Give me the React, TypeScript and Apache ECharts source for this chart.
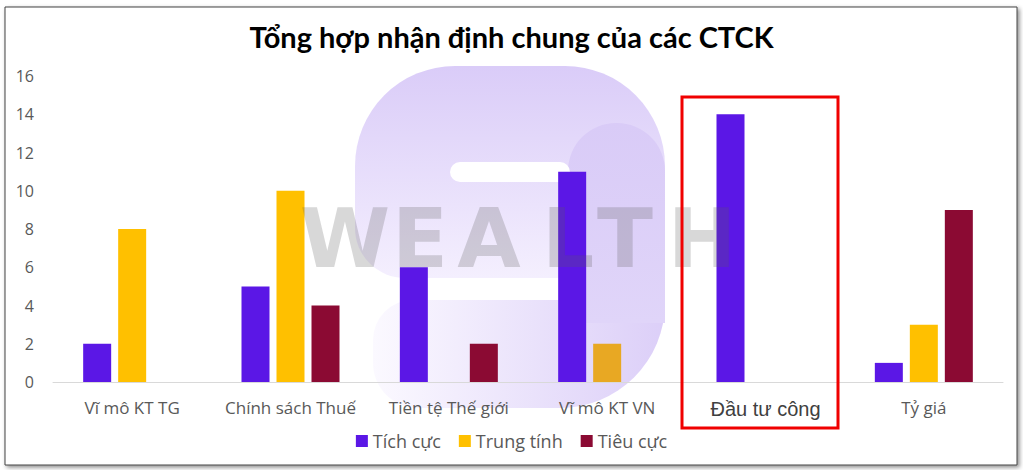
import React, { useEffect, useRef } from "react";
import * as echarts from "echarts";

const categories = ["Vĩ mô KT TG", "Chính sách Thuế", "Tiền tệ Thế giới", "Vĩ mô KT VN", "Đầu tư công", "Tỷ giá"];
const tichCuc = [2, 5, 6, 11, 14, 1];
const trungTinh = [8, 10, 0, 2, 0, 3];
const tieuCuc = [0, 4, 2, 0, 0, 9];
const seriesNames = ["Tích cực", "Trung tính", "Tiêu cực"];
const yTicks = [0, 2, 4, 6, 8, 10, 12, 14, 16];
const title = "Tổng hợp nhận định chung của các CTCK";
const watermark = ["W", "E", "A", "L", "T", "H"];

const highlighted = "Đầu tư công";

export default function App() {
  const ref = useRef<HTMLDivElement>(null);
  useEffect(() => {
    if (!ref.current) return;
    const chart = echarts.init(ref.current, undefined, { renderer: "svg" });
    const wmX = [345, 420, 489, 568, 625, 702];
    const lav = (c1: string, c2: string, horiz = false) =>
      new echarts.graphic.LinearGradient(0, 0, horiz ? 1 : 0, horiz ? 0 : 1, [
        { offset: 0, color: c1 },
        { offset: 1, color: c2 },
      ]);
    const option: any = {
      animation: false,
      backgroundColor: "#ffffff",
      title: {
        text: title,
        left: "center",
        top: 17,
        textStyle: { fontFamily: "Lato", fontWeight: "bold", fontSize: 29, color: "#000000" },
      },
      legend: {
        data: seriesNames,
        bottom: 15,
        left: "center",
        icon: "rect",
        itemWidth: 12,
        itemHeight: 12,
        itemGap: 18,
        textStyle: { fontFamily: "Open Sans", fontSize: 18, color: "#595959" },
      },
      grid: { left: 53, right: 20, top: 76, bottom: 88 },
      xAxis: {
        type: "category",
        data: categories,
        axisLine: { lineStyle: { color: "#D9D9D9", width: 1 } },
        axisTick: { show: false },
        axisLabel: {
          interval: 0,
          margin: 17,
          fontFamily: "Open Sans",
          fontSize: 17,
          color: "#595959",
          formatter: (v: string) => (v === highlighted ? "{hl|" + v + "}" : v),
          rich: {
            hl: { fontFamily: "Liberation Sans", fontSize: 20, color: "#404040" },
          },
        },
      },
      yAxis: {
        type: "value",
        min: yTicks[0],
        max: yTicks[yTicks.length - 1],
        interval: 2,
        splitLine: { show: false },
        axisLine: { show: false },
        axisTick: { show: false },
        axisLabel: { margin: 19, fontFamily: "Open Sans", fontSize: 16, color: "#595959" },
      },
      series: [
        { name: seriesNames[0], type: "bar", data: tichCuc, barWidth: 28, barGap: "25%", itemStyle: { color: "#5B17E6" } },
        {
          name: seriesNames[1],
          type: "bar",
          data: trungTinh.map((v, i) => (categories[i] === "Vĩ mô KT VN" ? { value: v, itemStyle: { color: "#E8A823" } } : v)),
          barWidth: 28,
          itemStyle: { color: "#FFC000" },
        },
        { name: seriesNames[2], type: "bar", data: tieuCuc, barWidth: 28, itemStyle: { color: "#8B0A33" } },
      ],
      graphic: [
        {
          type: "rect",
          z: -20,
          shape: { x: 5, y: 7, width: 1012, height: 458 },
          style: { fill: "#ffffff", stroke: "#444444", lineWidth: 1, shadowBlur: 4, shadowOffsetX: 2, shadowOffsetY: 2, shadowColor: "rgba(0,0,0,0.45)" },
        },
        {
          type: "rect",
          z: -10,
          shape: { x: 355, y: 66, width: 310, height: 212, r: [100, 100, 0, 50] },
          style: { fill: lav("#DACCF8", "#F4EFFE") },
        },
        {
          type: "rect",
          z: -9,
          shape: { x: 373, y: 300, width: 292, height: 108, r: [40, 0, 105, 45] },
          style: { fill: lav("#FBF9FF", "#DCCFF8", true) },
        },
        {
          type: "rect",
          z: -8,
          shape: { x: 568, y: 123, width: 97, height: 200, r: [48, 48, 0, 0] },
          style: { fill: lav("#D9CBF7", "#E0D5F9") },
        },
        {
          type: "rect",
          z: -7,
          shape: { x: 450, y: 162, width: 120, height: 20, r: 10 },
          style: { fill: "#ffffff" },
        },
        ...watermark.map((ch, i) => ({
          type: "text",
          z: 100,
          x: wmX[i],
          y: 238,
          style: {
            text: ch,
            fontFamily: "DejaVu Sans",
            fontWeight: "bold",
            fontSize: 82,
            fill: "rgba(90,90,90,0.24)",
            align: "center",
            verticalAlign: "middle",
          },
        })),
        {
          type: "rect",
          z: 100,
          shape: { x: 682, y: 97, width: 156, height: 331 },
          style: { fill: "none", stroke: "#F00000", lineWidth: 3 },
        },
      ],
    };
    chart.setOption(option);
    return () => chart.dispose();
  }, []);
  return <div ref={ref} style={{ position: "fixed", left: 0, top: 0, width: 1023, height: 470 }} />;
}
